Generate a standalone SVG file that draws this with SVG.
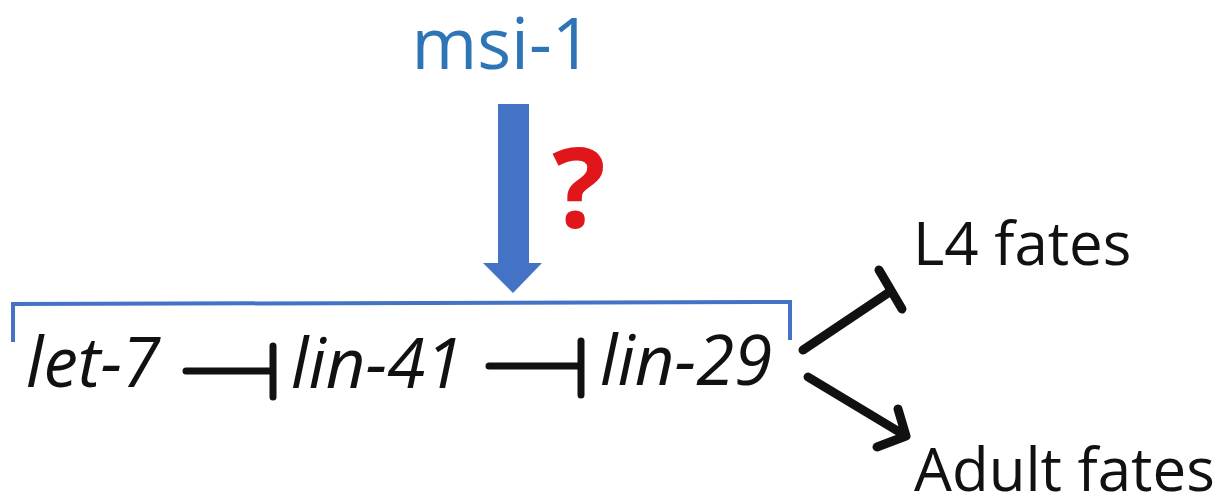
<svg xmlns="http://www.w3.org/2000/svg" width="1232" height="503" viewBox="0 0 1232 503">
<style>
.t{font-family:"Open Sans","Noto Sans","Liberation Sans",sans-serif;}
.gene{font-style:italic;font-size:69px;fill:#111;}
.fate{font-size:60px;fill:#111;}
.inh{stroke:#111;stroke-width:7;fill:none;stroke-linecap:round;}
.blk{stroke:#111;stroke-width:9;fill:none;stroke-linecap:round;stroke-linejoin:round;}
</style>
<rect width="1232" height="503" fill="#fff"/>
<g id="msi1">
<text class="t" x="502" y="69" font-size="71" fill="#2E75B6" text-anchor="middle">msi-1</text>
</g>
<g id="bigarrow">
<polygon points="498,104 529,104 529,263 542,263 513,293 483,263 498,263" fill="#4472C4"/>
</g>
<g id="question">
<text class="t" x="579" y="228" font-size="112" font-weight="bold" fill="#E0161B" text-anchor="middle">?</text>
</g>
<g id="bracket">
<polyline points="13,342 13,304 790,302 790,340" fill="none" stroke="#4472C4" stroke-width="4"/>
</g>
<g id="let7"><text class="t gene" x="26" y="387">let-7</text></g>
<g id="lin41"><text class="t gene" x="291" y="388">lin-41</text></g>
<g id="lin29"><text class="t gene" x="600" y="385" font-size="71">lin-29</text></g>
<g id="l4"><text class="t fate" x="913" y="265">L4 fates</text></g>
<g id="adult"><text class="t fate" x="914" y="491" font-size="61">Adult fates</text></g>
<g id="connectors">
<path class="inh" d="M186,371 H273 M273,346 V397"/>
<path class="inh" d="M489,366 H581 M581,341 V395"/>
<path class="blk" d="M803,350 L891,291 M879,270 L902,309"/>
<path class="blk" d="M808,377 L906,436 M898,409 L906,436 L877,447"/>
</g>
</svg>
